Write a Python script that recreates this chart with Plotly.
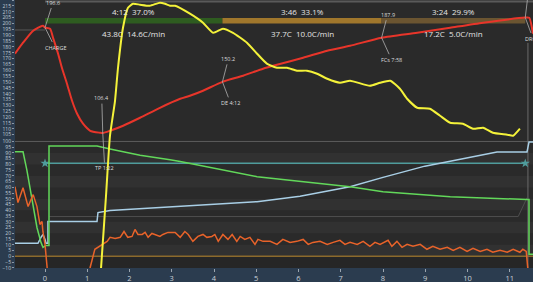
import plotly.graph_objects as go

# ---------------- data ----------------
# events (time in minutes, bean temperature)
ev_names = ["CHARGE", "TP", "DE", "FCs", "DROP"]
ev_times = [0.0, 1.367, 4.2, 7.967, 11.367]
ev_temps = [196.6, 106.4, 150.2, 187.9, 205.1]

# phase statistics
phase_rise = [43.8, 37.7, 17.2]
phase_rate = [14.6, 10.0, 5.0]

# bean temperature (top panel)
bt_t = [-0.71, -0.52, -0.28, -0.05, 0.0, 0.12, 0.19, 0.31, 0.40, 0.52, 0.64, 0.76, 0.90, 1.07,
        1.30, 1.367, 1.54, 1.85, 2.25, 2.72, 3.20, 3.43, 3.74, 4.2, 4.69, 5.16, 5.49, 6.11, 6.68,
        7.22, 7.967, 8.81, 9.59, 10.37, 11.367, 11.46, 11.55]
bt_v = [174.2, 183.6, 193.9, 198.1, 196.6, 195.6, 187.9, 174.2, 162.2, 148.6, 134.0, 122.9, 114.4,
        108.4, 106.7, 106.4, 108.4, 112.7, 119.5, 128.0, 135.7, 138.3, 142.6, 150.2, 155.4, 161.4,
        164.8, 170.8, 176.8, 181.0, 187.9, 192.1, 196.4, 200.7, 205.1, 205.0, 191.3]

# yellow curve (same temperature scale, spans both panels)
et_t = [1.30, 1.325, 1.444, 1.538, 1.657, 1.728, 1.846, 1.964, 2.083, 2.25, 2.48, 2.72, 2.84, 2.96,
        3.08, 3.43, 3.74, 3.98, 4.21, 4.45, 4.78, 5.02, 5.25, 5.49, 5.73, 5.96, 6.20, 6.44, 6.68,
        6.98, 7.22, 7.69, 7.93, 8.17, 8.40, 8.57, 8.81, 9.11, 9.35, 9.59, 9.89, 10.13, 10.37, 10.60,
        10.94, 11.08, 11.24]
et_v = [-21.5, -9.6, 52.8, 104.1, 134.0, 162.2, 196.4, 213.5, 216.9, 216.1, 215.2, 217.8, 216.9,
        215.2, 215.2, 208.4, 200.7, 192.1, 195.6, 192.1, 183.6, 174.2, 165.7, 162.2, 162.2, 159.7,
        159.7, 157.1, 152.8, 149.4, 151.1, 146.8, 149.4, 151.1, 144.3, 135.7, 128.0, 127.2, 121.2,
        115.2, 114.4, 110.1, 111.0, 106.7, 105.0, 104.1, 110.1]

# bottom panel series
heat_t = [-0.71, -0.52, -0.43, -0.31, -0.19, -0.095, -0.047, 0.024, 0.095, 0.095, 1.231, 1.538,
          2.25, 2.96, 3.20, 5.02, 6.11, 7.22, 8.00, 9.59, 11.408, 11.456, 11.456, 11.55]
heat_v = [91.0, 91.0, 75.3, 49.4, 25.1, 12.1, 7.8, 9.5, 9.5, 96.1, 96.1, 93.5, 88.0, 84.0, 82.5,
          69.3, 64.9, 60.6, 56.3, 51.9, 49.4, 49.4, 1.7, 1.7]

fan_t = [-0.71, -0.166, -0.095, -0.047, 0.0, 0.024, 0.07, 0.07, 1.231, 1.254, 1.538, 3.195, 5.018,
         6.036, 7.219, 8.00, 8.99, 10.698, 11.408, 11.456, 11.55]
fan_v = [11.3, 11.3, 16.5, 19.0, 14.7, 11.3, 11.3, 30.3, 30.3, 38.1, 39.8, 43.3, 47.6, 52.2, 60.6,
         68.7, 78.5, 90.9, 90.9, 99.6, 99.6]

set_t = [0.0, 11.367]
set_v = [81.0, 81.0]

bg_t = [0.1, 11.2, 11.41]
bg_v = [34.6, 34.6, 51.1]

ror_t = [-0.71, -0.64, -0.52, -0.40, -0.28, -0.19, -0.12, -0.07, -0.05, 0.0, 0.05, 0.07, None,
         1.02, 1.07, 1.18, 1.37, 1.47, 1.54, 1.66, 1.78, 1.87, 1.96, 2.06, 2.13, 2.20, 2.30, 2.37,
         2.44, 2.53, 2.60, 2.72, 2.79, 2.91, 3.01, 3.08, 3.20, 3.31, 3.39, 3.50, 3.62, 3.74, 3.83,
         3.95, 4.02, 4.10, 4.21, 4.33, 4.43, 4.54, 4.62, 4.73, 4.85, 4.97, 5.04, 5.16, 5.33, 5.49,
         5.63, 5.80, 5.96, 6.11, 6.23, 6.34, 6.51, 6.68, 6.82, 6.98, 7.10, 7.22, 7.39, 7.53, 7.69,
         7.81, 7.93, 8.05, 8.12, 8.21, 8.33, 8.45, 8.57, 8.71, 8.88, 9.04, 9.18, 9.35, 9.52, 9.66,
         9.82, 9.99, 10.13, 10.30, 10.46, 10.60, 10.77, 10.94, 11.08, 11.24, 11.31, 11.39, 11.41,
         11.43, 11.46]
ror_v = [60.6, 46.8, 59.7, 43.3, 53.7, 43.3, 27.7, 30.3, 21.6, 10.4, -9.5, -24.0, None,
         -24.0, -9.5, 6.1, 10.4, 13.0, 16.5, 15.6, 16.5, 21.6, 16.5, 17.3, 23.4, 19.0, 19.0, 20.8,
         16.5, 19.9, 19.0, 17.3, 19.0, 20.8, 20.8, 20.8, 16.5, 21.6, 19.0, 13.0, 17.3, 19.0, 16.5,
         17.3, 19.0, 13.0, 19.0, 14.7, 19.0, 13.0, 17.3, 14.7, 16.5, 10.4, 14.7, 13.0, 13.0, 10.4,
         14.7, 12.1, 13.0, 14.7, 10.4, 12.1, 13.0, 10.4, 12.1, 13.9, 10.4, 12.1, 10.4, 13.0, 8.7,
         12.1, 10.4, 13.0, 13.9, 8.7, 13.0, 7.8, 10.4, 8.7, 10.4, 6.1, 8.7, 6.1, 7.8, 5.2,
         7.8, 4.3, 6.9, 4.3, 6.1, 3.5, 5.2, 3.5, 6.1, 3.5, 6.1, 4.3, -0.9,
         -9.5, -24.0]

x_ticks = list(range(0, 12))
top_ticks = list(range(105, 225, 5))
bot_ticks = list(range(-10, 105, 5))

# ---------------- styling ----------------
FONT = "Open Sans"
TXT = "#e4e4e4"
TOP_DOM = [0.485, 1.0]
BOT_DOM = [0.0, 0.485]

fig = go.Figure()

fig.add_trace(go.Scatter(x=bg_t, y=bg_v, xaxis="x", yaxis="y2", mode="lines",
                         line=dict(color="#4e4e4e", width=1), hoverinfo="skip"))
fig.add_trace(go.Scatter(x=set_t, y=set_v, xaxis="x", yaxis="y2", mode="lines+markers",
                         line=dict(color="#4f9c9c", width=1.5),
                         marker=dict(symbol="star", size=7, color="#4f9c9c")))
fig.add_trace(go.Scatter(x=fan_t, y=fan_v, xaxis="x", yaxis="y2", mode="lines",
                         line=dict(color="#a9cfe6", width=1.5)))
fig.add_trace(go.Scatter(x=heat_t, y=heat_v, xaxis="x", yaxis="y2", mode="lines",
                         line=dict(color="#62d85a", width=1.5)))
fig.add_trace(go.Scatter(x=ror_t, y=ror_v, xaxis="x", yaxis="y2", mode="lines",
                         line=dict(color="#e8632a", width=1.5), connectgaps=False))
fig.add_trace(go.Scatter(x=bt_t, y=bt_v, xaxis="x", yaxis="y", mode="lines",
                         line=dict(color="#e8352a", width=2, shape="spline", smoothing=0.6)))
fig.add_trace(go.Scatter(x=et_t, y=et_v, xaxis="x", yaxis="y3", mode="lines",
                         line=dict(color="#f4f23a", width=2, shape="spline", smoothing=0.5)))

shapes = []
# plot background
shapes.append(dict(type="rect", xref="paper", yref="paper", x0=0, x1=1, y0=0, y1=1,
                   fillcolor="#2a2a2a", line=dict(width=0), layer="below"))
# bottom panel bands
for b in range(0, 90, 20):
    shapes.append(dict(type="rect", xref="paper", yref="y2", x0=0, x1=1, y0=b, y1=b + 10,
                       fillcolor="#313131", line=dict(width=0), layer="below"))
shapes.append(dict(type="rect", xref="paper", yref="y2", x0=0, x1=1, y0=-10.2, y1=0,
                   fillcolor="#262626", line=dict(width=0), layer="below"))
# reference lines
shapes.append(dict(type="line", xref="paper", yref="y2", x0=0, x1=1, y0=0, y1=0,
                   line=dict(color="#8c6a2c", width=1.5), layer="below"))
shapes.append(dict(type="line", xref="paper", yref="y2", x0=0, x1=1, y0=100, y1=100,
                   line=dict(color="#5c5c5c", width=1), layer="below"))
shapes.append(dict(type="line", xref="x", yref="paper", x0=0, x1=11.55, y0=0.994, y1=0.994,
                   line=dict(color="#5a5a5a", width=2), layer="below"))
shapes.append(dict(type="line", xref="x", yref="y", x0=-0.71, x1=0, y0=194.5, y1=194.5,
                   line=dict(color="#585858", width=1), layer="below"))
shapes.append(dict(type="line", xref="x", yref="paper", x0=11.43, x1=11.43, y0=0, y1=0.84,
                   line=dict(color="#6a6a6a", width=1), layer="below"))
# leader of the (off-screen) drop value label
shapes.append(dict(type="line", xref="x", yref="y", x0=ev_times[4], x1=ev_times[4] + 0.05,
                   y0=ev_temps[4], y1=220.1, line=dict(color="#b0b0b0", width=0.8)))

# phase bars
ph_edges = [ev_times[0], ev_times[2], ev_times[3], ev_times[4]]
ph_cols = ["#2e5c20", "#a0772c", "#6b5531"]
for i in range(3):
    shapes.append(dict(type="rect", xref="x", yref="y", x0=ph_edges[i], x1=ph_edges[i + 1],
                       y0=200.0, y1=204.7, fillcolor=ph_cols[i], line=dict(width=0),
                       layer="below"))

annotations = []
total_s = int(round((ev_times[4] - ev_times[0]) * 60))
for i in range(3):
    secs = int(round(ph_edges[i + 1] * 60)) - int(round(ph_edges[i] * 60))
    mid = (ph_edges[i] + ph_edges[i + 1]) / 2
    pct = round(secs / total_s * 1000 + 1e-9) / 10
    annotations.append(dict(x=mid, y=210.7, xref="x", yref="y", showarrow=False,
                            text=f"{secs // 60}:{secs % 60:02d}  {pct:.1f}%",
                            font=dict(family=FONT, size=8, color=TXT)))
    annotations.append(dict(x=mid, y=191.9, xref="x", yref="y", showarrow=False,
                            text=f"{phase_rise[i]:.1f}C  {phase_rate[i]:.1f}C/min",
                            font=dict(family=FONT, size=8, color=TXT)))


def mmss(t):
    s = int(round(t * 60))
    return f"{s // 60}:{s % 60:02d}"


top_off = [(8, -25), (-1, -35), (6, -23), (6, -23)]
bot_off = [(10, 20), (2, 35), (8, 21), (10, 22), (12, 21)]
for i, n in enumerate(ev_names):
    lab_bot = n if n in ("CHARGE", "DROP") else f"{n} {mmss(ev_times[i])}"
    labels = [(lab_bot, bot_off[i])]
    if i < len(top_off):
        labels.append((f"{ev_temps[i]:.1f}", top_off[i]))
    for txt, (ax, ay) in labels:
        annotations.append(dict(x=ev_times[i], y=ev_temps[i], xref="x", yref="y", text=txt,
                                showarrow=True, arrowhead=0, arrowwidth=0.8,
                                arrowcolor="#b0b0b0", ax=ax, ay=ay, standoff=0,
                                font=dict(family=FONT, size=5.5, color="#dddddd")))

fig.update_layout(
    width=533, height=282,
    margin=dict(l=15, r=0, t=0, b=14),
    paper_bgcolor="#2b3c4f",
    plot_bgcolor="rgba(0,0,0,0)",
    showlegend=False,
    shapes=shapes,
    annotations=annotations,
    xaxis=dict(domain=[0, 1], anchor="y2", range=[-0.71, 11.55], tickvals=x_ticks,
               ticks="outside", ticklen=3, tickcolor="#9aa4ae", showgrid=False,
               zeroline=False, showline=False,
               tickfont=dict(family=FONT, size=7.5, color="#c8d0d8")),
    yaxis=dict(domain=TOP_DOM, anchor="x", range=[102.2, 220.1], tickvals=top_ticks,
               ticks="outside", ticklen=2, tickcolor="#8a98a6", showgrid=False,
               zeroline=False, showline=False,
               tickfont=dict(family=FONT, size=5, color="#c2ccd6")),
    yaxis2=dict(domain=BOT_DOM, anchor="x", range=[-10.2, 103], tickvals=bot_ticks,
                ticks="outside", ticklen=2, tickcolor="#8a98a6", showgrid=False,
                zeroline=False, showline=False,
                tickfont=dict(family=FONT, size=5, color="#c2ccd6")),
    yaxis3=dict(domain=[0, 1], anchor="x", range=[-8.9, 220.1], visible=False,
                showgrid=False, zeroline=False),
)

fig.write_html("out.html")
